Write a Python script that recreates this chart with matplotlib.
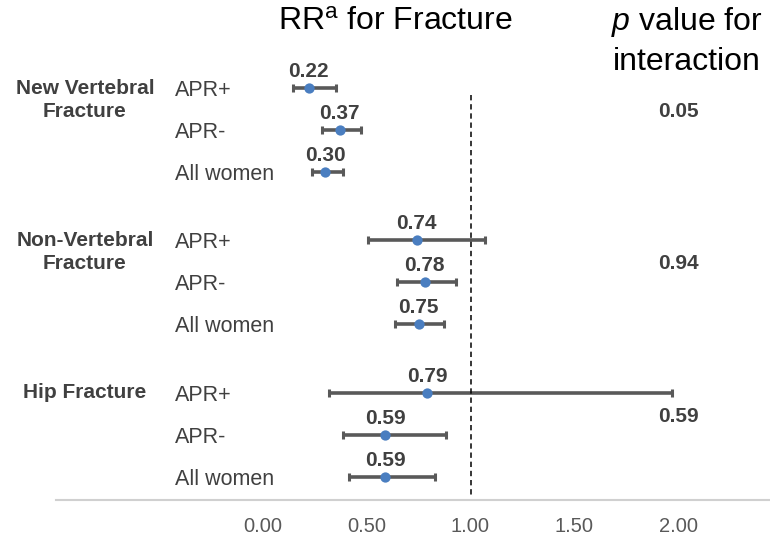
import matplotlib
matplotlib.use("Agg")
import matplotlib.pyplot as plt
import numpy as np

# Data
groups = ["New Vertebral\nFracture", "Non-Vertebral\nFracture", "Hip Fracture"]
subgroups = ["APR+", "APR-", "All women"]
rr = [0.22, 0.37, 0.30, 0.74, 0.78, 0.75, 0.79, 0.59, 0.59]
ci_low = [0.145, 0.285, 0.235, 0.505, 0.645, 0.635, 0.32, 0.385, 0.415]
ci_high = [0.35, 0.47, 0.385, 1.07, 0.93, 0.87, 1.97, 0.88, 0.83]
p_interaction = ["0.05", "0.94", "0.59"]
xticks = [0.0, 0.5, 1.0, 1.5, 2.0]

plt.rcParams['font.family'] = ['Liberation Sans', 'DejaVu Sans']
plt.rcParams['mathtext.fontset'] = 'custom'
plt.rcParams['mathtext.rm'] = 'Liberation Sans'
plt.rcParams['mathtext.it'] = 'Liberation Sans:italic'

dark = '#404040'
blue = '#4a7ec0'
bar_col = '#595959'

fig = plt.figure(figsize=(7.7, 5.39), dpi=100)
W, H = 770, 539
ax_left, ax_bottom = 56 / W, 39 / H
ax = fig.add_axes([ax_left, ax_bottom, 1 - ax_left, 1 - ax_bottom])

# row positions: 3 rows per group, extra gap between groups
ypos = []
for g in range(len(groups)):
    for s in range(len(subgroups)):
        ypos.append(g * 3.63 + s)
ypos = np.array(ypos)

rr_a = np.array(rr)
err = [rr_a - np.array(ci_low), np.array(ci_high) - rr_a]
ax.errorbar(rr_a, ypos, xerr=err, fmt='none', ecolor=bar_col, elinewidth=2.6,
            capsize=2.6, capthick=2.2, zorder=2)
ax.scatter(rr_a, ypos, s=55, color=blue, zorder=3, linewidths=0)

for x, y in zip(rr, ypos):
    ax.text(x, y - 0.27, f"{x:.2f}", ha='center', va='baseline', fontsize=15,
            fontweight='bold', color=dark)

# dashed reference line at 1
ax.vlines(1.0, 0.17, 9.74, colors='black', linestyles=(0, (3.5, 2.5)), linewidth=1.1)

# row and group labels
for i, y in enumerate(ypos):
    ax.text(-0.424, y + 0.05, subgroups[i % 3], ha='left', va='center',
            fontsize=15.5, color=dark)
for g, name in enumerate(groups):
    y0 = ypos[g * 3]
    ax.text(-0.858, y0 if g == 2 else y0 + 0.28, name, ha='center', va='center',
            fontsize=15, fontweight='bold', color=dark, linespacing=1.3)
    ax.text(2.0, y0 + 0.55, p_interaction[g], ha='center', va='center',
            fontsize=15, fontweight='bold', color=dark)

ax.set_xlim((56 - 263) / 207.5, (770 - 263) / 207.5)
ax.set_ylim((500 - 88) / 42, -88 / 42)
ax.set_xticks(xticks)
ax.set_xticklabels([f"{t:.2f}" for t in xticks], fontsize=14.5, color='#595959')
ax.tick_params(axis='x', length=0, pad=12)
ax.set_yticks([])
for side in ['top', 'right', 'left']:
    ax.spines[side].set_visible(False)
ax.spines['bottom'].set_color('#d0d0d0')
ax.spines['bottom'].set_linewidth(1.5)

fig.text(395 / W, 1 - 22 / H, r"RR$^{\mathregular{a}}$ for Fracture", ha='center',
         va='center', fontsize=23, color='black')
fig.text(687 / W, 1 - 22 / H, r"$\mathit{p}$ value for", ha='center', va='center',
         fontsize=23, color='black')
fig.text(687 / W, 1 - 62 / H, "interaction", ha='center', va='center',
         fontsize=23, color='black')

fig.savefig("out.png", dpi=100)
